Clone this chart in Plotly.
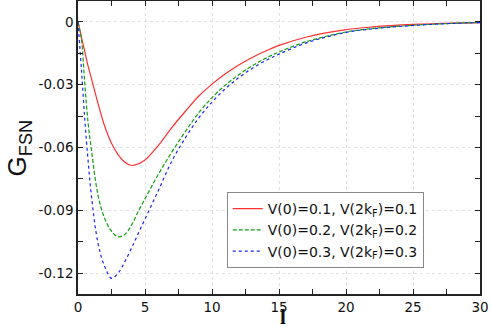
import plotly.graph_objects as go

x = [0, 0.25, 0.5, 0.75, 1, 1.5, 2, 2.5, 3, 3.5, 4, 4.5, 5, 6, 7, 8, 9, 10,
     11, 12, 13, 14, 15, 17, 20, 22, 25, 28, 30]

g_01 = [0, -0.007, -0.014, -0.021, -0.027, -0.039, -0.050, -0.058, -0.0635,
        -0.067, -0.0686, -0.0678, -0.066, -0.059, -0.0505, -0.0428, -0.0355,
        -0.0297, -0.0248, -0.0206, -0.017, -0.0139, -0.0112, -0.0073, -0.0037,
        -0.0024, -0.0012, -0.0005, -0.0003]

g_02 = [0, -0.008, -0.029, -0.048, -0.061, -0.083, -0.094, -0.100, -0.1027,
        -0.1015, -0.097, -0.0905, -0.0845, -0.0728, -0.0622, -0.0525, -0.0435,
        -0.0362, -0.0302, -0.0252, -0.021, -0.0174, -0.0144, -0.0095, -0.0048,
        -0.0031, -0.0016, -0.0007, -0.0003]

g_03 = [0, -0.022, -0.046, -0.066, -0.083, -0.106, -0.117, -0.1225, -0.120,
        -0.1145, -0.108, -0.101, -0.0942, -0.0805, -0.0665, -0.0555, -0.046,
        -0.0383, -0.0319, -0.0266, -0.0222, -0.0185, -0.0154, -0.0101, -0.005,
        -0.0033, -0.0017, -0.0007, -0.0003]

names = ["V(0)=0.1, V(2k<sub>F</sub>)=0.1",
         "V(0)=0.2, V(2k<sub>F</sub>)=0.2",
         "V(0)=0.3, V(2k<sub>F</sub>)=0.3"]

x_ticks = [0, 5, 10, 15, 20, 25, 30]
x_ticklabels = ["0", "5", "10", "15", "20", "25", "30"]
y_ticks = [0, -0.03, -0.06, -0.09, -0.12]
y_ticklabels = ["0", "-0.03", "-0.06", "-0.09", "-0.12"]

fig = go.Figure()
styles = [("#ff3030", "solid"), ("#10a010", "4px,2px"), ("#2020ff", "dot")]
for ys, nm, (c, d) in zip([g_01, g_02, g_03], names, styles):
    fig.add_trace(go.Scatter(x=x, y=ys, mode="lines", name=nm,
                             line=dict(color=c, dash=d, width=1.2, shape="spline", smoothing=1.0)))

axis_common = dict(
    showline=True, linecolor="#222222", linewidth=1.5, mirror="ticks",
    ticks="inside", ticklen=5, tickcolor="rgba(0,0,0,0)",
    showgrid=True, gridcolor="#e2e2e2", griddash="3px,3px", gridwidth=1,
    zeroline=False, automargin=False,
    tickfont=dict(family="DejaVu Sans", size=13.5, color="#111111"),
)

fig.update_xaxes(**axis_common, range=[0, 30], tickvals=x_ticks, ticktext=x_ticklabels,
                 minor=dict(dtick=2.5, tick0=0, ticks="inside", ticklen=5,
                            tickcolor="#222222", showgrid=False))
fig.update_yaxes(**axis_common, range=[-0.13, 0.01], tickvals=y_ticks, ticktext=y_ticklabels,
                 minor=dict(dtick=0.015, tick0=0, ticks="inside", ticklen=5,
                            tickcolor="#222222", showgrid=False))

fig.add_annotation(text="G<sub>FSN</sub>", xref="paper", yref="paper",
                   x=-0.147, y=0.5, xanchor="center", yanchor="middle",
                   textangle=-90, showarrow=False,
                   font=dict(family="Liberation Sans, Arial", size=26, color="#111111"))
fig.add_annotation(text="<b>l</b>", xref="paper", yref="paper",
                   x=0.51, y=-0.0785, xanchor="center", yanchor="middle",
                   showarrow=False, height=16, borderpad=0,
                   font=dict(family="Liberation Serif, Times New Roman", size=21, color="#111111"))

fig.update_layout(
    width=491, height=327,
    margin=dict(l=78, r=11, t=1, b=33),
    paper_bgcolor="white", plot_bgcolor="white",
    showlegend=True,
    legend=dict(x=0.37, y=0.348, xanchor="left", yanchor="top",
                bgcolor="white", bordercolor="#888888", borderwidth=1,
                font=dict(family="DejaVu Sans", size=14, color="#111111"),
                itemwidth=30, tracegroupgap=0),
)

fig.write_html("out.html", config={"displayModeBar": False},
               post_script="document.body.style.margin='0';document.body.style.overflow='hidden';")
